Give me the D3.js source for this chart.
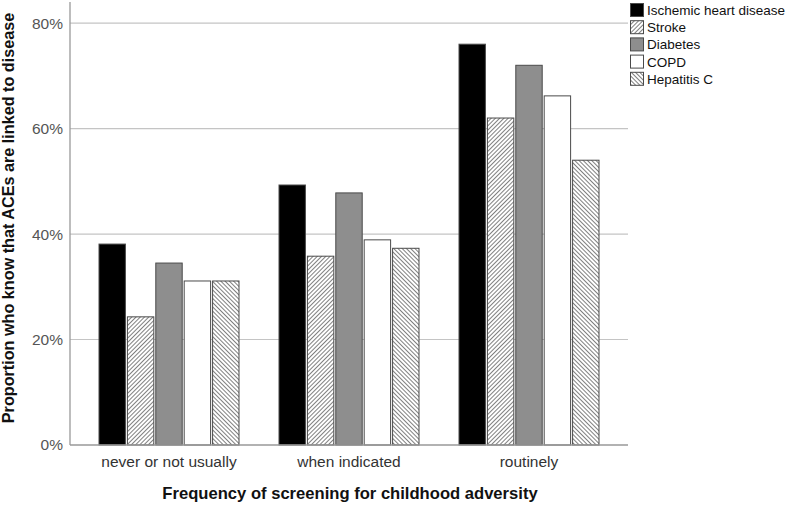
<!DOCTYPE html>
<html><head><meta charset="utf-8">
<script src="https://cdn.jsdelivr.net/npm/d3@7/dist/d3.min.js"></script>
<style>body{margin:0;background:#fff}svg{display:block}</style>
</head><body>
<svg id="chart" width="787" height="505"></svg>
<script>
const categories = ["never or not usually", "when indicated", "routinely"];
const seriesNames = ["Ischemic heart disease", "Stroke", "Diabetes", "COPD", "Hepatitis C"];
const ihd      = [0.381, 0.493, 0.760];
const stroke   = [0.243, 0.358, 0.620];
const diabetes = [0.345, 0.478, 0.720];
const copd     = [0.311, 0.389, 0.662];
const hepC     = [0.311, 0.373, 0.540];
const yTicks = [0, 0.2, 0.4, 0.6, 0.8];
const yTitle = "Proportion who know that ACEs are linked to disease";
const xTitle = "Frequency of screening for childhood adversity";

const values = [ihd, stroke, diabetes, copd, hepC];
const fills = ["#000000", "url(#pStroke)", "#8e8e8e", "#ffffff", "url(#pHep)"];

const svg = d3.select("#chart");
const defs = svg.append("defs");
function hatch(id, angle) {
  const p = defs.append("pattern").attr("id", id).attr("patternUnits", "userSpaceOnUse")
    .attr("width", 3).attr("height", 3).attr("patternTransform", `rotate(${angle})`);
  p.append("rect").attr("width", 3).attr("height", 3).attr("fill", "#fff");
  p.append("line").attr("x1", 0).attr("y1", 0).attr("x2", 0).attr("y2", 3)
    .attr("stroke", "#3a3a3a").attr("stroke-width", 1.3);
}
hatch("pStroke", 45);
hatch("pHep", -45);

const axisLeftX = 70, axisRightX = 628;
const y = d3.scaleLinear().domain([0, 0.84]).range([445, 2]);
const x0 = d3.scaleBand().domain(categories).range([79, 619]).padding(0);
const x1 = d3.scaleBand().domain(seriesNames).range([20, 160]).paddingInner(0.07).paddingOuter(0);

// gridlines
svg.append("g").selectAll("line").data(yTicks.filter(d => d > 0)).join("line")
  .attr("x1", axisLeftX).attr("x2", axisRightX)
  .attr("y1", d => y(d)).attr("y2", d => y(d))
  .attr("stroke", "#c4c4c4").attr("stroke-width", 1.2);

// bars
const groups = svg.append("g").selectAll("g").data(categories).join("g")
  .attr("transform", d => `translate(${x0(d)},0)`);
groups.selectAll("rect").data((c, ci) => seriesNames.map((s, si) => ({s, si, v: values[si][ci]})))
  .join("rect")
  .attr("x", d => x1(d.s)).attr("width", x1.bandwidth())
  .attr("y", d => y(d.v)).attr("height", d => y(0) - y(d.v))
  .attr("fill", d => fills[d.si]).attr("stroke", "#4a4a4a").attr("stroke-width", 1);

// y axis
const yAxis = svg.append("g").attr("transform", `translate(${axisLeftX},0)`)
  .call(d3.axisLeft(y).tickValues(yTicks).tickFormat(d3.format(".0%")).tickSize(0).tickPadding(7));
yAxis.select(".domain").attr("stroke", "#999").attr("stroke-width", 1.3).attr("d", `M0,${y(0.84)}V${y(0)}`);
yAxis.selectAll("text").attr("font-family", "Liberation Sans, Arial, sans-serif")
  .attr("font-size", "15.5px").attr("fill", "#555");

// x axis
const xAxis = svg.append("g").attr("transform", `translate(0,${y(0)})`)
  .call(d3.axisBottom(x0).tickSize(0).tickPadding(11));
xAxis.select(".domain").attr("stroke", "#999").attr("stroke-width", 1.3).attr("d", `M${axisLeftX},0H${axisRightX}`);
xAxis.selectAll("text").attr("font-family", "Liberation Sans, Arial, sans-serif")
  .attr("font-size", "15.5px").attr("fill", "#333");

// titles
svg.append("text").attr("transform", "translate(14,218) rotate(-90)")
  .attr("text-anchor", "middle").attr("font-family", "Liberation Sans, Arial, sans-serif")
  .attr("font-weight", "bold").attr("font-size", "16.2px").attr("fill", "#111").text(yTitle);
svg.append("text").attr("x", 350).attr("y", 499)
  .attr("text-anchor", "middle").attr("font-family", "Liberation Sans, Arial, sans-serif")
  .attr("font-weight", "bold").attr("font-size", "16.6px").attr("fill", "#111").text(xTitle);

// legend
const lg = svg.append("g").attr("transform", "translate(630,3)");
const li = lg.selectAll("g").data(seriesNames).join("g")
  .attr("transform", (d, i) => `translate(0,${i * 17.2})`);
li.append("rect").attr("x", 0.5).attr("y", 0.5).attr("width", 13).attr("height", 13)
  .attr("fill", (d, i) => fills[i]).attr("stroke", "#4a4a4a");
li.append("text").attr("x", 17).attr("y", 12).attr("font-family", "Liberation Sans, Arial, sans-serif")
  .attr("font-size", "13.5px").attr("fill", "#111").text(d => d);
</script>
</body></html>
